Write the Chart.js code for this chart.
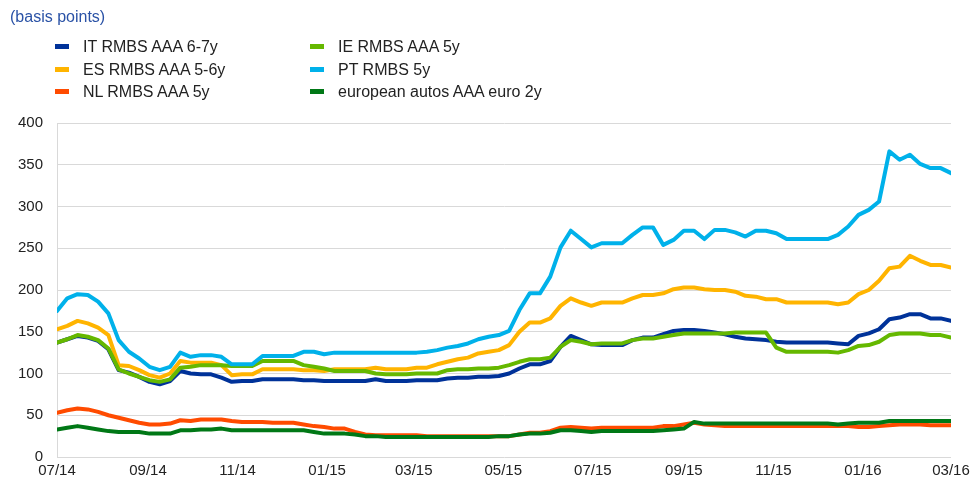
<!DOCTYPE html>
<html lang="en">
<head>
  <meta charset="UTF-8">
  <title>RMBS spreads</title>
  <script src="https://cdn.jsdelivr.net/npm/chart.js"></script>
  <style>
    * { box-sizing: border-box; }
    body, html { margin:0; padding:0; background:#fff; font-family: Arial, 'Liberation Sans', sans-serif; }
    .wrap { position:relative; width:979px; height:499px; }
    .wrap canvas { position:absolute; left:0; top:0; }
    .unit { position:absolute; left:10px; top:8px; font-size:16px; color:#2a52a6; }
    .legend { position:absolute; font-size:16px; color:#222; }
    .legend div { position:absolute; white-space:nowrap; height:18px; line-height:18px; }
    .legend span { display:inline-block; width:14px; height:5px; vertical-align:middle; margin-right:14px; position:relative; top:-1px; }
  </style>
</head>
<body>
  <div class="wrap">
    <canvas id="chart" width="979" height="499"></canvas>
    <div class="unit">(basis points)</div>
    <div class="legend" id="legend"></div>
  </div>
  <script>
    // weekly observations starting 1 July 2014
    const startDate = '2014-07-01';
    const tickLabels = ['07/14','09/14','11/14','01/15','03/15','05/15','07/15','09/15','11/15','01/16','03/16'];

    const itRmbs = [137,141,145,143,139,129,104,101,96,90,87,91,103,
      100,99,99,95,90,91,91,93,93,93,93,92,92,
      91,91,91,91,91,93,91,91,91,92,92,92,94,
      95,95,96,96,97,100,106,111,111,115,132,145,
      140,135,134,134,134,140,143,143,147,151,152,152,151,
      149,147,144,142,141,140,138,137,137,137,137,137,136,
      135,145,148,153,165,167,171,171,166,166,163];
    const esRmbs = [153,157,163,160,155,146,110,109,104,98,95,100,115,
      113,113,113,110,98,99,99,105,105,105,105,104,104,
      103,105,105,105,105,107,105,105,105,107,107,111,114,
      117,119,124,126,128,134,150,161,161,166,181,190,
      185,181,185,185,185,190,194,194,196,201,203,203,201,
      200,200,198,193,192,189,189,185,185,185,185,185,183,
      185,195,200,211,226,228,241,235,230,230,227];
    const nlRmbs = [53,56,58,57,54,50,47,44,41,39,39,40,44,
      43,45,45,45,43,42,42,42,41,41,41,39,37,
      36,34,34,30,27,26,26,26,26,26,25,25,25,
      25,25,25,25,25,25,27,29,29,31,35,36,
      35,34,35,35,35,35,35,35,37,37,39,41,39,
      38,37,37,37,37,37,37,37,37,37,37,37,37,
      37,36,36,37,38,39,39,39,38,38,38];
    const ieRmbs = [137,141,146,144,140,130,105,100,96,92,90,93,107,
      108,110,110,110,109,109,109,115,115,115,115,110,108,
      106,103,103,103,103,100,99,99,99,100,100,100,104,
      105,105,106,106,107,110,114,117,117,119,132,140,
      138,135,136,136,136,140,142,142,144,146,148,148,148,
      148,148,149,149,149,149,131,126,126,126,126,126,125,
      128,133,134,138,146,148,148,148,146,146,143];
    const ptRmbs = [175,190,195,194,186,172,140,126,118,108,104,108,125,
      120,122,122,120,111,111,111,121,121,121,121,126,126,
      123,125,125,125,125,125,125,125,125,125,126,128,131,
      133,136,141,144,146,151,176,196,196,216,251,271,
      261,251,256,256,256,266,275,275,254,260,271,271,261,
      272,272,269,264,271,271,268,261,261,261,261,261,266,
      276,290,296,306,366,356,362,351,346,346,340];
    const autos = [33,35,37,35,33,31,30,30,30,28,28,28,32,
      32,33,33,34,32,32,32,32,32,32,32,32,30,
      28,28,28,27,25,25,24,24,24,24,24,24,24,
      24,24,24,24,25,25,27,28,28,29,32,32,
      31,30,31,31,31,31,31,31,32,33,34,42,40,
      40,40,40,40,40,40,40,40,40,40,40,40,39,
      40,41,41,41,43,43,43,43,43,43,43];

    const seriesNames = ['IT RMBS AAA 6-7y','ES RMBS AAA 5-6y','NL RMBS AAA 5y','IE RMBS AAA 5y','PT RMBS 5y','european autos AAA euro 2y'];
    const seriesValues = [itRmbs, esRmbs, nlRmbs, ieRmbs, ptRmbs, autos];
    const colors = ['#003299','#ffb400','#ff4b00','#65b800','#00b1ea','#007816'];

    const t0 = Date.parse(startDate + 'T00:00:00Z');
    const dayMs = 86400000;
    function labelToDay(lbl) {
      const [mm, yy] = lbl.split('/').map(Number);
      return (Date.UTC(2000 + yy, mm - 1, 1) - t0) / dayMs;
    }
    const tickDays = tickLabels.map(labelToDay);

    const datasets = seriesValues.map((vals, i) => ({
      label: seriesNames[i],
      data: vals.map((v, k) => ({ x: k * 7, y: v })),
      borderColor: colors[i],
      backgroundColor: colors[i],
      borderWidth: 4,
      pointRadius: 0,
      tension: 0,
      borderCapStyle: 'round',
      borderJoinStyle: 'round',
      order: seriesValues.length - i
    }));

    // legend, two columns (Excel style)
    const legend = document.getElementById('legend');
    seriesNames.forEach((name, i) => {
      const d = document.createElement('div');
      const col = Math.floor(i / 3), row = i % 3;
      d.style.left = (55 + col * 255) + 'px';
      d.style.top = (38 + row * 22.5) + 'px';
      d.innerHTML = `<span style="background:${colors[i]}"></span>${name}`;
      legend.appendChild(d);
    });

    new Chart(document.getElementById('chart'), {
      type: 'line',
      data: { datasets },
      options: {
        responsive: false,
        animation: false,
        devicePixelRatio: 1,
        layout: { padding: { left: 0, top: 123, right: 28, bottom: 0 } },
        plugins: { legend: { display: false }, tooltip: { enabled: false } },
        scales: {
          x: {
            type: 'linear',
            min: 0,
            max: tickDays[tickDays.length - 1],
            grid: { display: false, drawTicks: false },
            border: { display: false },
            afterBuildTicks: s => { s.ticks = tickDays.map(v => ({ value: v })); },
            afterFit: s => { s.height = 42; },
            ticks: {
              autoSkip: false,
              maxRotation: 0,
              padding: 5,
              color: '#222',
              font: { family: "Arial, 'Liberation Sans'", size: 15 },
              callback: v => tickLabels[tickDays.indexOf(v)]
            }
          },
          y: {
            min: 0,
            max: 400,
            grid: { color: '#d9d9d9', lineWidth: 1, drawTicks: false },
            border: { display: true, color: '#d9d9d9' },
            afterFit: s => { s.width = 57; },
            ticks: {
              stepSize: 50,
              padding: 14,
              color: '#222',
              font: { family: "Arial, 'Liberation Sans'", size: 15 }
            }
          }
        }
      }
    });
  </script>
</body>
</html>
